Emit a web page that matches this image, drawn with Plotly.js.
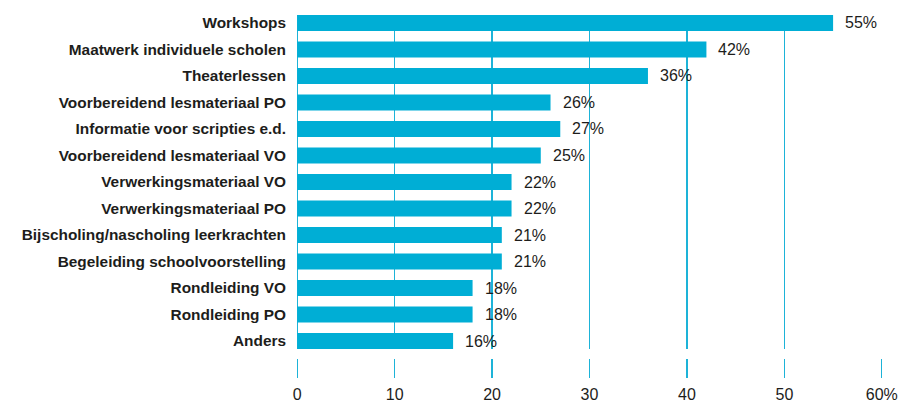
<!DOCTYPE html>
<html>
<head>
<meta charset="utf-8">
<script src="https://cdn.plot.ly/plotly-3.0.1.min.js"></script>
<style>html,body{margin:0;padding:0;background:#fff;}#chart{width:904px;height:403px;}</style>
</head>
<body>
<div id="chart"></div>
<script>
const categories = [
  "Workshops",
  "Maatwerk individuele scholen",
  "Theaterlessen",
  "Voorbereidend lesmateriaal PO",
  "Informatie voor scripties e.d.",
  "Voorbereidend lesmateriaal VO",
  "Verwerkingsmateriaal VO",
  "Verwerkingsmateriaal PO",
  "Bijscholing/nascholing leerkrachten",
  "Begeleiding schoolvoorstelling",
  "Rondleiding VO",
  "Rondleiding PO",
  "Anders"
];
const values = [55, 42, 36, 26, 27, 25, 22, 22, 21, 21, 18, 18, 16];
const tickValues = [0, 10, 20, 30, 40, 50, 60];
const tickLabels = ["0", "10", "20", "30", "40", "50", "60%"];

const barColor = "#00AED5";
const gridColor = "#1DB3D8";
const textColor = "#1d1d1b";

const trace = {
  type: "bar",
  orientation: "h",
  x: values,
  y: categories,
  marker: {color: barColor},
  hoverinfo: "none"
};

const annotations = values.map((v, i) => ({
  x: v, y: categories[i], xref: "x", yref: "y",
  text: v + "%", showarrow: false, xanchor: "left", xshift: 10, yshift: 0,
  font: {family: "Liberation Sans, Arial, sans-serif", size: 16, color: textColor}
}));

const layout = {
  width: 904, height: 403,
  margin: {l: 297, r: 22, t: 15, b: 45, pad: 0},
  paper_bgcolor: "#fff", plot_bgcolor: "#fff",
  bargap: 0.4,
  showlegend: false,
  xaxis: {
    range: [-0.02, 60.02],
    tickvals: tickValues, ticktext: tickLabels,
    showgrid: true, gridcolor: gridColor, gridwidth: 1.2,
    zeroline: true, zerolinecolor: gridColor, zerolinewidth: 1.2,
    ticks: "outside", ticklen: 19, tickwidth: 1.2, tickcolor: gridColor,
    ticklabelstandoff: 3,
    anchor: "free", position: 0,
    showline: false,
    tickfont: {family: "Liberation Sans, Arial, sans-serif", size: 16, color: textColor},
    fixedrange: true
  },
  yaxis: {
    domain: [9/343, 1],
    type: "category",
    range: [12.3, -0.3],
    showgrid: false, zeroline: false, showline: false, ticks: "",
    ticklabelstandoff: 10,
    tickfont: {family: "Liberation Sans, Arial, sans-serif", size: 15.4, color: textColor, weight: "bold"},
    fixedrange: true
  },
  annotations: annotations
};

Plotly.newPlot("chart", [trace], layout, {displayModeBar: false, staticPlot: true});
</script>
</body>
</html>
